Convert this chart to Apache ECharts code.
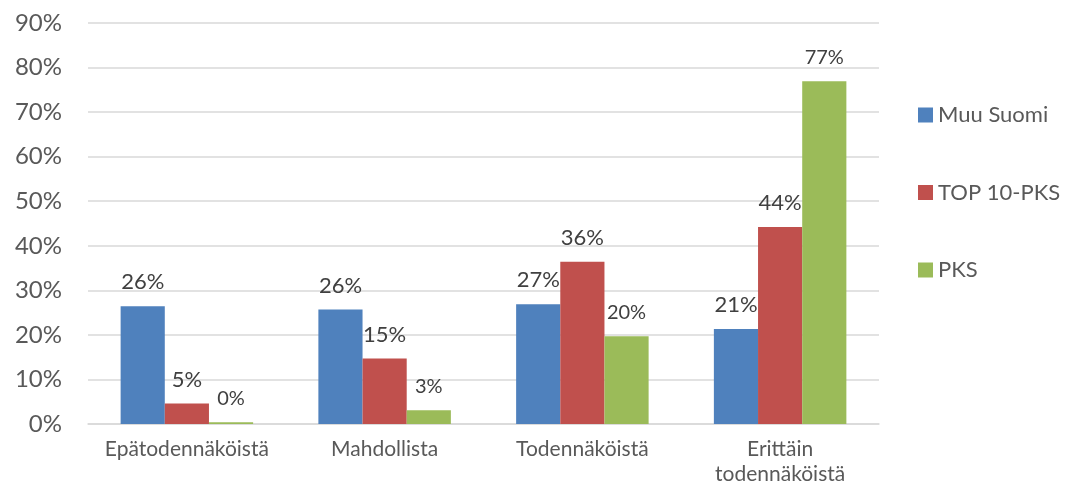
<!DOCTYPE html>
<html>
<head>
<meta charset="utf-8">
<script src="https://cdn.jsdelivr.net/npm/echarts@6/dist/echarts.min.js"></script>
<style>
  html, body { margin: 0; padding: 0; background: #fff; }
  #chart { width: 1066px; height: 492px; }
</style>
</head>
<body>
<div id="chart"></div>
<script>
var categories = ['Epätodennäköistä', 'Mahdollista', 'Todennäköistä', 'Erittäin todennäköistä'];
var muuSuomi = [26.4, 25.7, 26.9, 21.3];
var top10Pks = [4.6, 14.7, 36.4, 44.2];
var pks = [0.4, 3.1, 19.7, 76.9];
var seriesNames = ['Muu Suomi', 'TOP 10-PKS', 'PKS'];

document.addEventListener('DOMContentLoaded', function () {
    var myChart = echarts.init(document.getElementById('chart'));
    var font = 'Lato, "Open Sans", sans-serif';

    function pct(p) { return Math.round(p.value) + '%'; }

    function bar(name, data, color, size, dist) {
        return {
            name: name,
            type: 'bar',
            data: data,
            barGap: '0%',
            barCategoryGap: '33%',
            itemStyle: { color: color },
            label: {
                show: true,
                position: 'top',
                distance: dist,
                formatter: pct,
                color: '#404040',
                fontFamily: font,
                fontSize: size
            }
        };
    }

    myChart.setOption({
        animation: false,
        textStyle: { fontFamily: font },
        grid: { left: 88, right: 187, top: 23, bottom: 68 },
        legend: {
            orient: 'vertical',
            left: 913,
            top: 99,
            itemWidth: 15,
            itemHeight: 15,
            itemGap: 55.5,
            icon: 'rect',
            textStyle: { color: '#595959', fontSize: 22, fontFamily: font },
            data: seriesNames
        },
        xAxis: {
            type: 'category',
            data: categories,
            axisLine: { lineStyle: { color: '#d9d9d9', width: 1.5 } },
            axisTick: { show: false },
            axisLabel: {
                interval: 0,
                color: '#595959',
                fontSize: 21,
                margin: 13,
                lineHeight: 25,
                formatter: function (v) { return v.replace(' ', '\n'); }
            }
        },
        yAxis: {
            type: 'value',
            min: 0,
            max: 90,
            interval: 10,
            axisLine: { show: false },
            axisTick: { show: false },
            splitLine: { lineStyle: { color: '#d9d9d9', width: 1.5 } },
            axisLabel: {
                color: '#595959',
                fontSize: 24,
                margin: 26,
                formatter: '{value}%'
            }
        },
        series: [
            bar(seriesNames[0], muuSuomi, '#4F81BD', 22, 13),
            bar(seriesNames[1], top10Pks, '#C0504D', 22, 13),
            bar(seriesNames[2], pks, '#9BBB59', 20, 14)
        ]
    });
});
</script>
</body>
</html>
